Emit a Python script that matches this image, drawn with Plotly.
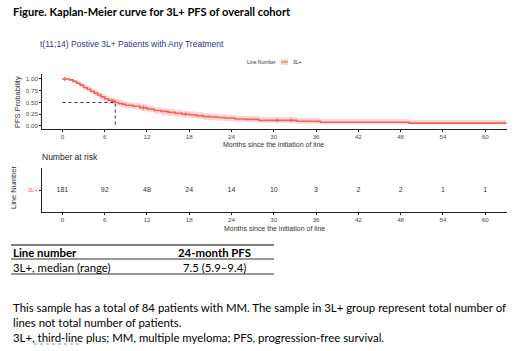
import plotly.graph_objects as go

# ---------------- data ----------------
km_times = [0, 1.0, 1.5, 2.0, 2.5, 3.0, 3.5, 4.0, 4.5, 5.0, 5.5, 6.0, 6.5, 7.0, 7.5,
            8.0, 8.5, 9.0, 10.0, 11.0, 12.0, 13.0, 14.0, 15.0, 16.0, 17.0, 18.0,
            19.0, 20.0, 21.0, 22.0, 23.0, 24.5, 26.0, 27.9, 33.3, 36.6, 49.2, 63.0]
km_surv = [1.0, 0.98, 0.95, 0.91, 0.87, 0.82, 0.78, 0.74, 0.70, 0.66, 0.62, 0.58, 0.55,
           0.53, 0.50, 0.48, 0.46, 0.44, 0.42, 0.39, 0.36, 0.33, 0.31, 0.29, 0.27, 0.25,
           0.24, 0.22, 0.20, 0.19, 0.18, 0.17, 0.15, 0.14, 0.12, 0.10, 0.08, 0.06, 0.06]
km_lower = [1.0, 0.96, 0.92, 0.87, 0.82, 0.77, 0.72, 0.68, 0.64, 0.59, 0.55, 0.51, 0.48,
            0.46, 0.43, 0.41, 0.39, 0.37, 0.35, 0.32, 0.29, 0.26, 0.24, 0.22, 0.20, 0.18,
            0.17, 0.15, 0.13, 0.12, 0.11, 0.10, 0.09, 0.08, 0.07, 0.05, 0.04, 0.03, 0.03]
km_upper = [1.0, 1.0, 0.98, 0.95, 0.92, 0.87, 0.84, 0.80, 0.77, 0.73, 0.69, 0.65, 0.62,
            0.60, 0.57, 0.55, 0.53, 0.51, 0.49, 0.46, 0.43, 0.40, 0.38, 0.36, 0.34, 0.32,
            0.31, 0.29, 0.27, 0.26, 0.25, 0.24, 0.22, 0.21, 0.19, 0.17, 0.15, 0.13, 0.13]
censor_times = [0.3, 7.2, 11.5, 17.5, 30.5, 32.5]
median_pfs = 7.5

risk_times = [0, 6, 12, 18, 24, 30, 36, 42, 48, 54, 60]
risk_counts = [181, 92, 48, 24, 14, 10, 3, 2, 2, 1, 1]

x_ticks = [0, 6, 12, 18, 24, 30, 36, 42, 48, 54, 60]
y_ticks = [0, 0.25, 0.5, 0.75, 1.0]
y_ticklabels = ["0.00", "0.25", "0.50", "0.75", "1.00"]

group_label = "3L+"
table_header = ["Line number", "24-month PFS"]
table_row = ["3L+, median (range)", "7.5 (5.9\u20139.4)"]

# ---------------- helpers ----------------
W, H = 520, 351
def px(x):
    return x / W
def py(y):
    return 1 - y / H

def step_value(t):
    v = km_surv[0]
    for tt, s in zip(km_times, km_surv):
        if tt <= t:
            v = s
    return v

RED = "#EE6461"
PINK = "rgba(248,118,109,0.30)"
TICKC = "#4d4d4d"
FONT = "Liberation Sans"
DOC = "Lato"
DOCSIZE = 11.4

fig = go.Figure()

# CI ribbon
fig.add_trace(go.Scatter(x=km_times, y=km_lower, mode="lines", line=dict(width=0, shape="hv"),
                         showlegend=False, hoverinfo="skip", xaxis="x", yaxis="y"))
fig.add_trace(go.Scatter(x=km_times, y=km_upper, mode="lines", line=dict(width=0, shape="hv"),
                         fill="tonexty", fillcolor=PINK, showlegend=False, hoverinfo="skip",
                         xaxis="x", yaxis="y"))
# KM curve
fig.add_trace(go.Scatter(x=km_times, y=km_surv, mode="lines", line=dict(color=RED, width=1.6, shape="hv"),
                         showlegend=False, xaxis="x", yaxis="y"))
# censor marks
fig.add_trace(go.Scatter(x=censor_times, y=[step_value(t) for t in censor_times], mode="markers",
                         marker=dict(symbol="cross-thin", size=3, line=dict(color=RED, width=1)),
                         showlegend=False, xaxis="x", yaxis="y"))
# median lines
fig.add_trace(go.Scatter(x=[0, median_pfs, median_pfs], y=[0.5, 0.5, 0], mode="lines",
                         line=dict(color="#333333", width=1, dash="dot"), showlegend=False,
                         xaxis="x", yaxis="y"))

# risk table numbers
fig.add_trace(go.Scatter(x=risk_times, y=[0.5] * len(risk_times), mode="text",
                         text=[str(c) for c in risk_counts],
                         textfont=dict(size=7, color="#333333", family=FONT),
                         showlegend=False, xaxis="x2", yaxis="y2"))

axis_common = dict(showgrid=False, zeroline=False, showline=True, linecolor="#222222", linewidth=0.8,
                   ticks="outside", ticklen=2, tickwidth=0.8, tickcolor="#222222",
                   tickfont=dict(size=6.2, color=TICKC, family=FONT))

fig.update_layout(
    width=W, height=H, margin=dict(l=0, r=0, t=0, b=0),
    paper_bgcolor="white", plot_bgcolor="white", showlegend=False,
    xaxis=dict(domain=[px(42), px(507)], range=[-2.9, 63.1], tickvals=x_ticks, anchor="y", **axis_common),
    yaxis=dict(domain=[py(129), py(74)], range=[-0.064, 1.106], tickvals=y_ticks, ticktext=y_ticklabels,
               anchor="x", **axis_common),
    xaxis2=dict(domain=[px(42), px(507)], range=[-2.9, 63.1], tickvals=x_ticks, anchor="y2", **axis_common),
    yaxis2=dict(domain=[py(212), py(168)], range=[0, 1], tickvals=[0.5], ticktext=[group_label],
                anchor="x2", **{**axis_common, "tickfont": dict(size=6, color=RED, family=FONT)}),
)

ann = []
def text(x, y, s, size, color="#000000", family=FONT, xanchor="left", bold=False, angle=0):
    if bold:
        s = "<b>" + s + "</b>"
    ann.append(dict(x=px(x), y=py(y), xref="paper", yref="paper", text=s, showarrow=False,
                    xanchor=xanchor, yanchor="middle", textangle=angle,
                    font=dict(size=size, color=color, family=family)))

text(11, 11, "Figure. Kaplan-Meier curve for 3L+ PFS of overall cohort", 11.1, family=DOC, bold=True)
text(38, 44, "t(11;14) Postive 3L+ Patients with Any Treatment", 8.5, color="#33338a")
text(245, 62, "Line Number", 5, color="#333333")
text(291, 62, group_label, 5, color="#333333")
text(17, 102, "PFS Probability", 7.5, color="#333333", xanchor="center", angle=-90)
text(273, 144, "Months since the initiation of line", 7, color="#333333", xanchor="center")
text(40, 157, "Number at risk", 8.5, color="#222222")
text(13, 188, "Line Number", 7.5, color="#333333", xanchor="center", angle=-90)
text(274, 228, "Months since the initiation of line", 7, color="#333333", xanchor="center")

text(11, 253, table_header[0], DOCSIZE, family=DOC, bold=True)
text(214, 253, table_header[1], DOCSIZE, family=DOC, bold=True, xanchor="center")
text(11, 267, table_row[0], DOCSIZE, family=DOC)
text(214, 267, table_row[1], DOCSIZE, family=DOC, xanchor="center")

text(11, 307, "This sample has a total of 84 patients with MM. The sample in 3L+ group represent total number of", DOCSIZE, family=DOC)
text(11, 322, "lines not total number of patients.", DOCSIZE, family=DOC)
text(11, 337, "3L+, third-line plus; MM, multiple myeloma; PFS, progression-free survival.", DOCSIZE, family=DOC)
fig.update_layout(annotations=ann)

shapes = [
    # legend key
    dict(type="rect", xref="paper", yref="paper", x0=px(281), x1=px(288), y0=py(65), y1=py(59),
         fillcolor=PINK, line=dict(width=0)),
    dict(type="line", xref="paper", yref="paper", x0=px(281), x1=px(288), y0=py(62), y1=py(62),
         line=dict(color=RED, width=1)),
    # table rules
    dict(type="line", xref="paper", yref="paper", x0=px(11), x1=px(274), y0=py(245), y1=py(245),
         line=dict(color="#555555", width=1.5)),
    dict(type="line", xref="paper", yref="paper", x0=px(11), x1=px(274), y0=py(259), y1=py(259),
         line=dict(color="#333333", width=1)),
    dict(type="line", xref="paper", yref="paper", x0=px(11), x1=px(274), y0=py(274), y1=py(274),
         line=dict(color="#333333", width=1)),
    # spellcheck underline
    dict(type="line", xref="paper", yref="paper", x0=px(34), x1=px(80), y0=py(344), y1=py(344),
         line=dict(color="#7f9fd8", width=1, dash="dot")),
]
fig.update_layout(shapes=shapes)

fig.write_html("out.html", config={"displayModeBar": False},
               post_script="document.body.style.margin='0';")
